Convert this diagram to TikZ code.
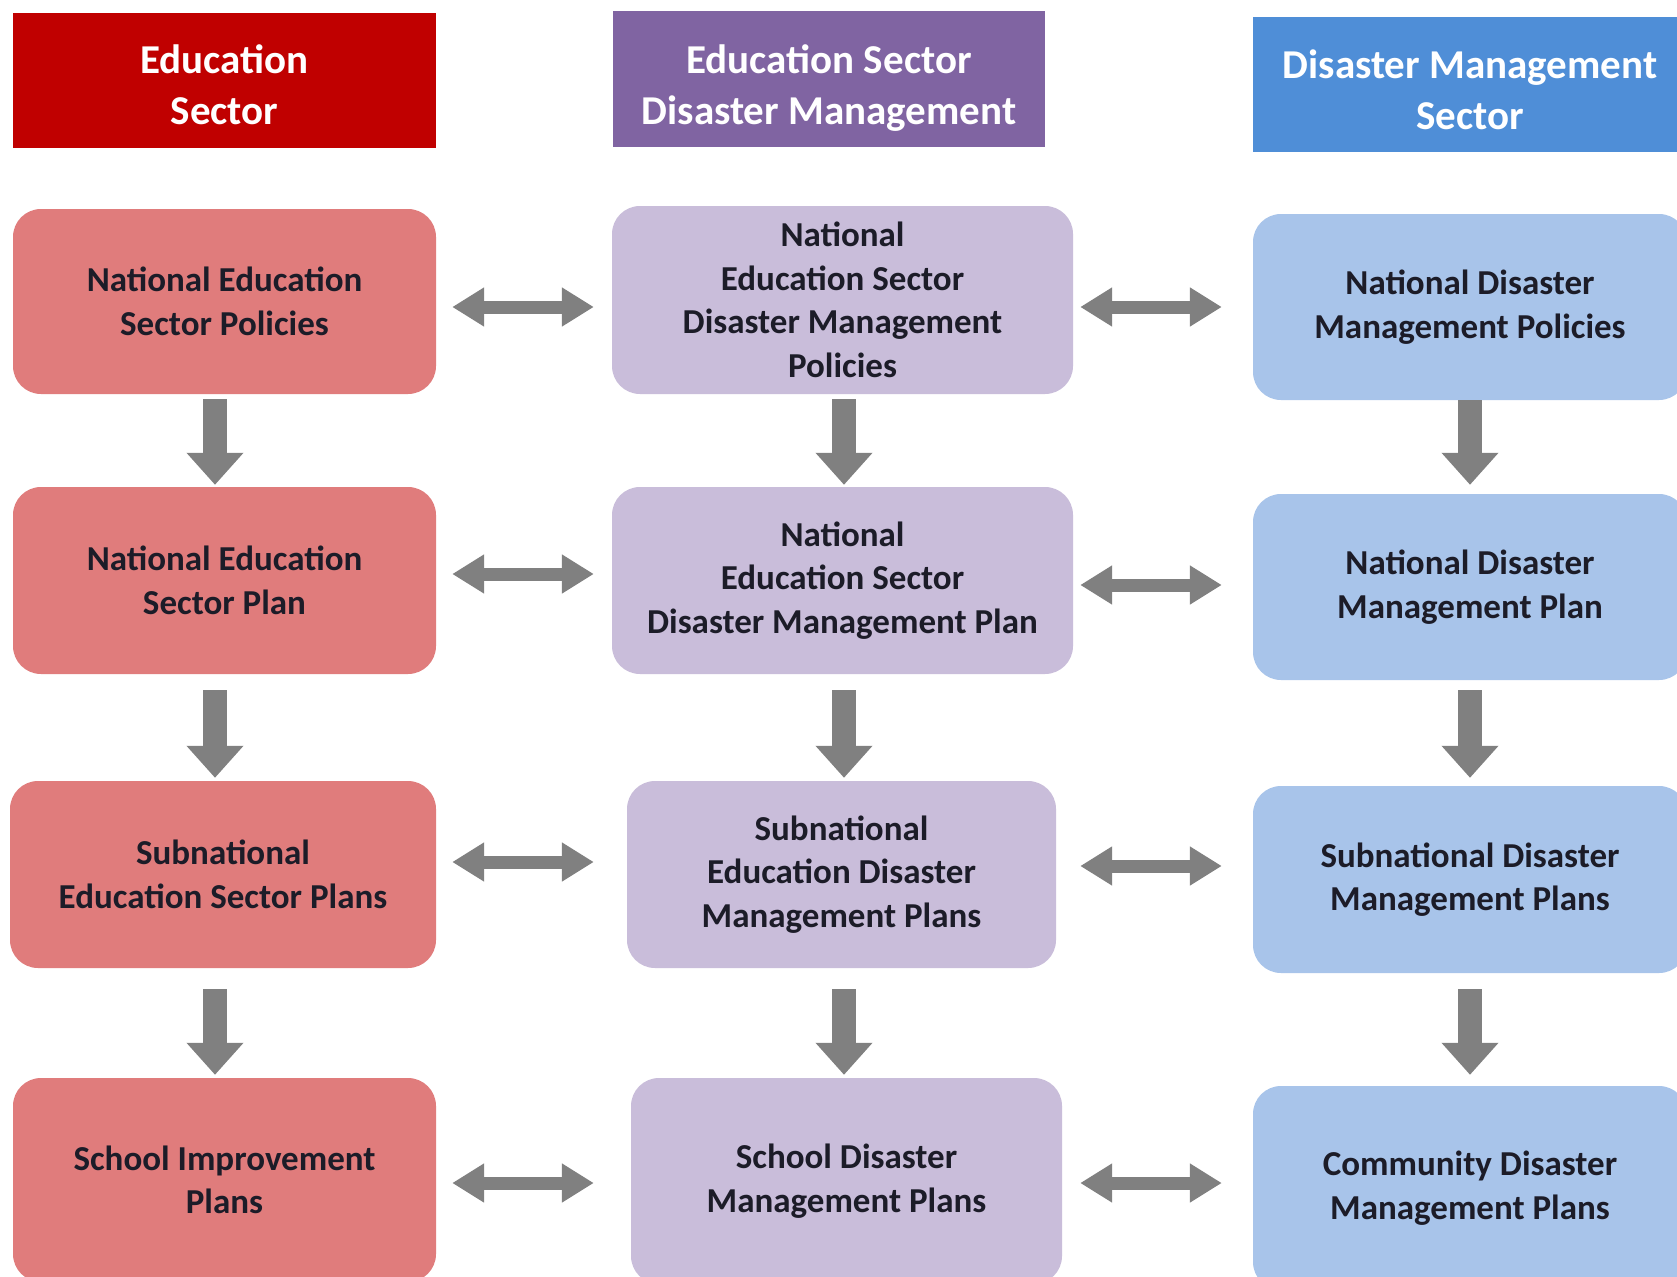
\documentclass[tikz,border=0pt]{standalone}
\usepackage{fontspec}
\setmainfont{Carlito}
\usetikzlibrary{arrows.meta}
\definecolor{hdrA}{HTML}{C00000}
\definecolor{hdrB}{HTML}{8064A2}
\definecolor{hdrC}{HTML}{4F8ED7}
\definecolor{boxA}{HTML}{E07C7C}
\definecolor{boxB}{HTML}{C9BDDA}
\definecolor{boxC}{HTML}{A8C4EA}
\definecolor{arr}{HTML}{808080}
\definecolor{txt}{HTML}{1C1C28}
\tikzset{
  hdr/.style={rectangle, inner sep=0pt},
  hdrtext/.style={inner sep=0pt, align=center, text=white,
    font=\fontsize{41}{51}\selectfont\bfseries},
  cell/.style={rectangle, rounded corners=28pt, inner sep=0pt, align=center, text=txt,
    font=\fontsize{35}{43.5}\selectfont\bfseries},
  harrow/.style={draw=arr, line width=13pt,
    {Triangle[width=37pt,length=32pt]}-{Triangle[width=37pt,length=32pt]}},
  varrow/.style={draw=arr, line width=24pt, -{Triangle[width=55pt,length=32pt]}}
}
\begin{document}
\begin{tikzpicture}[x=1pt,y=-1pt]
\useasboundingbox (0,0) rectangle (1677,1276);
\clip (0,0) rectangle (1677,1276);
\fill[white] (0,0) rectangle (1677,1276);
% headers
\node[hdr, fill=hdrA, minimum width=423pt, minimum height=135pt,
  label={[hdrtext, yshift=-4pt]center:{Education\\Sector}}] (h1) at (224.5,80.5) {};
\node[hdr, fill=hdrB, minimum width=432pt, minimum height=136pt,
  label={[hdrtext, yshift=-9pt]center:{Education Sector\\Disaster Management}}] (h2) at (829,79) {};
\node[hdr, fill=hdrC, minimum width=434pt, minimum height=135pt,
  label={[hdrtext, yshift=-5pt]center:{Disaster Management\\Sector}}] (h3) at (1470,84.5) {};
% column 1
\node[cell, fill=boxA, minimum width=423pt, minimum height=185pt] (e1) at (224.5,301.5) {National Education\\Sector Policies};
\node[cell, fill=boxA, minimum width=423pt, minimum height=187pt] (e2) at (224.5,580.5) {National Education\\Sector Plan};
\node[cell, fill=boxA, minimum width=426pt, minimum height=187pt] (e3) at (223,874.5) {Subnational\\Education Sector Plans};
\node[cell, fill=boxA, minimum width=423pt, minimum height=204pt] (e4) at (224.5,1180) {School Improvement\\Plans};
% column 2
\node[cell, fill=boxB, minimum width=461pt, minimum height=188pt] (m1) at (842.5,300) {National\\Education Sector\\Disaster Management\\Policies};
\node[cell, fill=boxB, minimum width=461pt, minimum height=187pt] (m2) at (842.5,580.5) {National\\Education Sector\\Disaster Management Plan};
\node[cell, fill=boxB, minimum width=429pt, minimum height=187pt] (m3) at (841.5,874.5) {Subnational\\Education Disaster\\Management Plans};
\node[cell, fill=boxB, minimum width=431pt, minimum height=206pt] (m4) at (846.5,1181) {School Disaster\\Management Plans};
% column 3
\node[cell, fill=boxC, minimum width=434pt, minimum height=186pt] (d1) at (1470,307) {National Disaster\\Management Policies};
\node[cell, fill=boxC, minimum width=434pt, minimum height=186pt] (d2) at (1470,587) {National Disaster\\Management Plan};
\node[cell, fill=boxC, minimum width=434pt, minimum height=187pt] (d3) at (1470,879.5) {Subnational Disaster\\Management Plans};
\node[cell, fill=boxC, minimum width=434pt, minimum height=204pt] (d4) at (1470,1188) {Community Disaster\\Management Plans};
% horizontal arrows col1 <-> col2
\draw[harrow, shorten <=16pt, shorten >=18pt] (e1.east |- 0,307) -- (m1.west |- 0,307);
\draw[harrow, shorten <=16pt, shorten >=18pt] (e2.east |- 0,574) -- (m2.west |- 0,574);
\draw[harrow, shorten <=16pt, shorten >=33pt] (e3.east |- 0,862) -- (m3.west |- 0,862);
\draw[harrow, shorten <=16pt, shorten >=37pt] (e4.east |- 0,1183) -- (m4.west |- 0,1183);
% horizontal arrows col2 <-> col3
\draw[harrow, shorten <=7pt, shorten >=31pt] (m1.east |- 0,307) -- (d1.west |- 0,307);
\draw[harrow, shorten <=7pt, shorten >=31pt] (m2.east |- 0,585) -- (d2.west |- 0,585);
\draw[harrow, shorten <=24pt, shorten >=31pt] (m3.east |- 0,866) -- (d3.west |- 0,866);
\draw[harrow, shorten <=18pt, shorten >=31pt] (m4.east |- 0,1183) -- (d4.west |- 0,1183);
% vertical arrows
\draw[varrow, shorten <=5pt, shorten >=2pt] (e1.south -| 215,0) -- (e2.north -| 215,0);
\draw[varrow, shorten <=16pt, shorten >=3pt] (e2.south -| 215,0) -- (e3.north -| 215,0);
\draw[varrow, shorten <=21pt, shorten >=3pt] (e3.south -| 215,0) -- (e4.north -| 215,0);
\draw[varrow, shorten <=5pt, shorten >=2pt] (m1.south -| 844,0) -- (m2.north -| 844,0);
\draw[varrow, shorten <=16pt, shorten >=3pt] (m2.south -| 844,0) -- (m3.north -| 844,0);
\draw[varrow, shorten <=21pt, shorten >=3pt] (m3.south -| 844,0) -- (m4.north -| 844,0);
\draw[varrow, shorten <=0pt, shorten >=9pt] (d1.south) -- (d2.north);
\draw[varrow, shorten <=10pt, shorten >=8pt] (d2.south) -- (d3.north);
\draw[varrow, shorten <=16pt, shorten >=11pt] (d3.south) -- (d4.north);
\end{tikzpicture}
\end{document}
